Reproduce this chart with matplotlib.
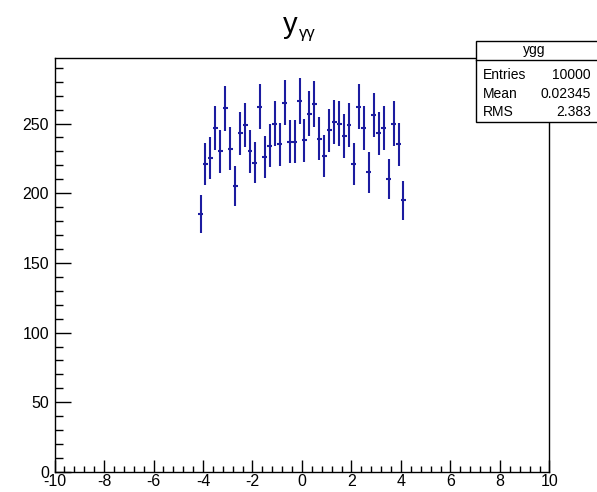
import numpy as np
import matplotlib.pyplot as plt
from matplotlib.patches import Rectangle
from matplotlib.ticker import MultipleLocator

plt.rcParams['font.family'] = ['Liberation Sans', 'DejaVu Sans']
plt.rcParams['axes.unicode_minus'] = False

# histogram ygg: 100 bins on [-10, 10], only the bins below are filled
first_edge = -4.2
bin_width = 0.2
counts = [185, 221, 225, 247, 230, 261, 232, 205, 243, 249,
          230, 222, 262, 226, 234, 250, 235, 265, 237, 237,
          266, 238, 257, 264, 239, 227, 245, 251, 250, 241,
          249, 221, 262, 247, 215, 256, 243, 247, 210, 250,
          235, 195]
stats_name = "ygg"
stats_rows = [("Entries", "10000"), ("Mean", "0.02345"), ("RMS", "2.383")]

counts = np.array(counts, dtype=float)
centers = first_edge + bin_width * (np.arange(len(counts)) + 0.5)
errors = np.sqrt(counts)

fig = plt.figure(figsize=(5.97, 4.92), dpi=100)
ax = fig.add_axes([0.0913, 0.0407, 0.8291, 0.8414])

ax.errorbar(centers, counts, yerr=errors, xerr=bin_width / 2, fmt='none',
            ecolor='#1c1ca0', elinewidth=1.5, capsize=0)

ax.set_xlim(-10, 10)
ax.set_ylim(0, 297)
ax.xaxis.set_major_locator(MultipleLocator(2))
ax.xaxis.set_minor_locator(MultipleLocator(0.4))
ax.yaxis.set_major_locator(MultipleLocator(50))
ax.yaxis.set_minor_locator(MultipleLocator(10))
ax.tick_params(axis='x', which='major', direction='in', length=9, width=1,
               labelsize=11.5, pad=1.5, top=False)
ax.tick_params(axis='x', which='minor', direction='in', length=4.5, width=1, top=False)
ax.tick_params(axis='y', which='major', direction='in', length=11.5, width=1,
               labelsize=11.5, pad=4, right=False)
ax.tick_params(axis='y', which='minor', direction='in', length=6, width=1, right=False)
for s in ax.spines.values():
    s.set_linewidth(1)
    s.set_color('black')

# title y_{gamma gamma}
fig.text(0.499, 0.932, "y", fontsize=21, ha='right', va='baseline')
fig.text(0.501, 0.922, "γγ", fontsize=12, ha='left', va='baseline')

# stats box
W, H = 597, 492
bx0, by0, bx1, by1 = 476, 41, 600, 122
hdr = 60
box = Rectangle((bx0 / W, 1 - by1 / H), (bx1 - bx0) / W, (by1 - by0) / H,
                transform=fig.transFigure, facecolor='white', edgecolor='black',
                linewidth=1, zorder=5, clip_on=False)
fig.patches.append(box)
fig.add_artist(plt.Line2D([bx0 / W, bx1 / W], [1 - hdr / H, 1 - hdr / H],
                          transform=fig.transFigure, color='black', lw=1, zorder=6))
fig.text((bx0 + 593) / 2 / W, 1 - 50 / H, stats_name, fontsize=10,
         ha='center', va='center', zorder=7)
row_y = [75, 94, 112]
for (lab, val), y in zip(stats_rows, row_y):
    fig.text(483 / W, 1 - y / H, lab, fontsize=10, ha='left', va='center', zorder=7)
    fig.text(591 / W, 1 - y / H, val, fontsize=10, ha='right', va='center', zorder=7)

fig.savefig("out.png", dpi=100)
